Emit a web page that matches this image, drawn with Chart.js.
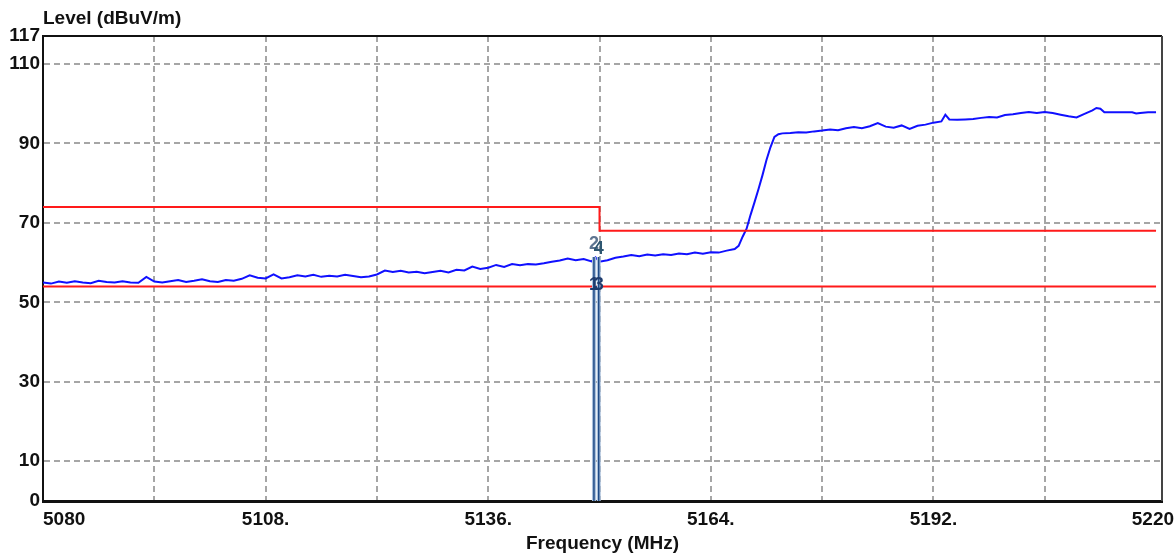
<!DOCTYPE html>
<html>
<head>
<meta charset="utf-8">
<script src="https://cdn.jsdelivr.net/npm/chart.js@4.4.1/dist/chart.umd.min.js"></script>
<style>
  html, body { margin: 0; padding: 0; background: #fff; }
  #wrap { width: 1176px; height: 553px; }
</style>
</head>
<body>
<div id="wrap"><canvas id="levelChart"></canvas></div>
<script>
const traceFreqs = [
  5080, 5081, 5082, 5083, 5084, 5085, 5086, 5087, 5088, 5089,
  5090, 5091, 5092, 5093, 5094, 5095, 5096, 5097, 5098, 5099,
  5100, 5101, 5102, 5103, 5104, 5105, 5106, 5107, 5108, 5109,
  5110, 5111, 5112, 5113, 5114, 5115, 5116, 5117, 5118, 5119,
  5120, 5121, 5122, 5123, 5124, 5125, 5126, 5127, 5128, 5129,
  5130, 5131, 5132, 5133, 5134, 5135, 5136, 5137, 5138, 5139,
  5140, 5141, 5142, 5143, 5144, 5145, 5146, 5147, 5148, 5149, 5149.5,
  5150, 5151, 5152, 5153, 5154, 5155, 5156, 5157, 5158, 5159,
  5160, 5161, 5162, 5163, 5164, 5165, 5166, 5167, 5167.5, 5168, 5168.5,
  5169, 5169.5, 5170, 5170.5, 5171, 5171.5, 5172, 5172.5, 5173, 5174,
  5175, 5176, 5177, 5178, 5179, 5180, 5181, 5182, 5183, 5184,
  5185, 5186, 5187, 5188, 5189, 5190, 5191, 5192, 5193, 5193.5, 5194,
  5195, 5196, 5197, 5198, 5199, 5200, 5201, 5202, 5203, 5204,
  5205, 5206, 5207, 5208, 5209, 5210, 5211, 5212, 5212.5, 5213, 5213.5,
  5214, 5215, 5216, 5217, 5217.5, 5218, 5219, 5220
];
const traceLevels = [
  55.0, 54.7, 55.2, 54.9, 55.3, 55.0, 54.8, 55.4, 55.1, 55.0,
  55.3, 55.0, 54.9, 56.4, 55.2, 55.0, 55.3, 55.6, 55.1, 55.4,
  55.8, 55.3, 55.1, 55.6, 55.4, 55.9, 56.8, 56.2, 56.0, 57.0,
  56.0, 56.3, 56.8, 56.5, 56.9, 56.4, 56.7, 56.5, 56.9, 56.6,
  56.3, 56.5, 57.0, 58.0, 57.6, 57.9, 57.5, 57.7, 57.3, 57.6,
  57.9, 57.5, 58.2, 58.0, 59.0, 58.4, 58.7, 59.4, 58.9, 59.6,
  59.3, 59.6, 59.5, 59.8, 60.2, 60.5, 61.0, 60.6, 60.9, 60.3, 61.3,
  60.2, 60.6, 61.2, 61.5, 61.9, 61.6, 62.0, 61.8, 62.1, 61.9,
  62.3, 62.1, 62.5, 62.2, 62.6, 62.5, 63.0, 63.4, 64.2, 66.5, 68.5,
  72.0, 75.2, 78.5, 82.0, 85.8, 89.0, 91.6, 92.3, 92.5, 92.6,
  92.8, 92.7, 93.0, 93.2, 93.5, 93.3, 93.8, 94.1, 93.8, 94.3,
  95.1, 94.2, 93.9, 94.5, 93.6, 94.4, 94.7, 95.2, 95.5, 97.2, 96.0,
  95.9, 96.0, 96.1, 96.4, 96.6, 96.5, 97.1, 97.3, 97.6, 97.9,
  97.6, 97.9, 97.6, 97.2, 96.8, 96.5, 97.4, 98.3, 98.9, 98.7, 97.8,
  97.8, 97.8, 97.8, 97.8, 97.5, 97.6, 97.8, 97.8
];

// limit lines
const upperLimitFreqs = [5080, 5150, 5150, 5220];
const upperLimitLevels = [74, 74, 68, 68];
const lowerLimitFreqs = [5080, 5220];
const lowerLimitLevels = [54, 54];

// markers
const markerNames = ["1", "2", "3", "4"];
const markerFreqs = [5149.3, 5149.3, 5149.9, 5149.9];
const markerLevels = [54.3, 64.6, 54.3, 63.3];
const markerLineTop = 61.4;

// axes
const xGridValues = [5080, 5094, 5108, 5122, 5136, 5150, 5164, 5178, 5192, 5206, 5220];
const xTickValues = [5080, 5108, 5136, 5164, 5192, 5220];
const xTickLabels = ["5080", "5108.", "5136.", "5164.", "5192.", "5220"];
const yTickValues = [0, 10, 30, 50, 70, 90, 110, 117];

const pts = (xs, ys) => xs.map((x, i) => ({ x: x, y: ys[i] }));
const labelFont = "bold 19px 'Liberation Sans', Arial, sans-serif";

const markerSets = [];
[5149.3, 5149.9].forEach(f => {
    markerSets.push({
        data: [{ x: f, y: 0 }, { x: f, y: markerLineTop }],
        borderColor: "#a9c0dc", borderWidth: 4, pointRadius: 0, order: 1
    });
    markerSets.push({
        data: [{ x: f, y: 0 }, { x: f, y: markerLineTop }],
        borderColor: "#1f4a86", borderWidth: 1.5, pointRadius: 0, order: 0
    });
});

const framePlugin = {
    id: "frameAndLabels",
    afterDraw(chart) {
        const { ctx, chartArea, scales } = chart;
        const xs = scales.x, ys = scales.y;
        ctx.save();
        ctx.lineWidth = 2;
        ctx.strokeStyle = "#111";
        ctx.beginPath();
        ctx.moveTo(chartArea.left, chartArea.top);
        ctx.lineTo(chartArea.right, chartArea.top);
        ctx.stroke();
        ctx.strokeStyle = "#444";
        ctx.beginPath();
        ctx.moveTo(chartArea.right, chartArea.top);
        ctx.lineTo(chartArea.right, chartArea.bottom);
        ctx.stroke();

        // x tick labels
        ctx.font = labelFont;
        ctx.fillStyle = "#111";
        ctx.textBaseline = "middle";
        const last = xTickValues.length - 1;
        xTickValues.forEach((v, i) => {
            let px = xs.getPixelForValue(v);
            ctx.textAlign = "center";
            if (i === 0) ctx.textAlign = "left";
            if (i === last) { ctx.textAlign = "right"; px += 18; }
            ctx.fillText(xTickLabels[i], px, chartArea.bottom + 19);
        });

        // axis titles
        ctx.textAlign = "left";
        ctx.fillText("Level (dBuV/m)", chartArea.left, 19);
        ctx.textAlign = "center";
        ctx.fillText("Frequency (MHz)", (chartArea.left + chartArea.right) / 2, chartArea.bottom + 43);

        // marker numbers
        ctx.font = "bold 18px 'Liberation Sans', Arial, sans-serif";
        const markerColors = ["#1f3c6e", "#5d7490", "#1f3c6e", "#2e5670"];
        markerNames.forEach((m, i) => {
            ctx.fillStyle = markerColors[i];
            ctx.fillText(m, xs.getPixelForValue(markerFreqs[i]), ys.getPixelForValue(markerLevels[i]));
        });
        ctx.restore();
    }
};

new Chart(document.getElementById("levelChart"), {
    type: "line",
    data: {
        datasets: [
            ...markerSets,
            {
                label: "Upper limit",
                data: pts(upperLimitFreqs, upperLimitLevels),
                borderColor: "#ff1a1a", borderWidth: 2, pointRadius: 0, order: 2
            },
            {
                label: "Lower limit",
                data: pts(lowerLimitFreqs, lowerLimitLevels),
                borderColor: "#ff1a1a", borderWidth: 2, pointRadius: 0, order: 2
            },
            {
                label: "Level",
                data: pts(traceFreqs, traceLevels),
                borderColor: "#1010ff", borderWidth: 2, pointRadius: 0, order: 3
            }
        ]
    },
    options: {
        responsive: true,
        maintainAspectRatio: false,
        animation: false,
        layout: { padding: { top: 36, right: 14, left: 0, bottom: 0 } },
        plugins: { legend: { display: false }, tooltip: { enabled: false } },
        scales: {
            x: {
                type: "linear",
                min: 5080,
                max: 5220.75,
                afterBuildTicks: s => { s.ticks = xGridValues.map(v => ({ value: v })); },
                afterFit: s => { s.height = 52; },
                ticks: { display: false },
                grid: {
                    drawTicks: false,
                    lineWidth: 2,
                    color: c => (c.tick && (c.tick.value === 5080 || c.tick.value === 5220)) ? "rgba(0,0,0,0)" : "#a6a6a6"
                },
                border: { display: true, color: "#111", width: 3, dash: [6, 4] }
            },
            y: {
                min: 0,
                max: 117,
                afterBuildTicks: s => { s.ticks = yTickValues.map(v => ({ value: v })); },
                afterFit: s => { s.width = 43; },
                ticks: {
                    padding: 3,
                    color: "#111",
                    font: { family: "'Liberation Sans', Arial, sans-serif", size: 19, weight: "bold" },
                    callback: v => String(v)
                },
                grid: {
                    drawTicks: false,
                    lineWidth: 2,
                    color: c => (c.tick && (c.tick.value === 0 || c.tick.value === 117)) ? "rgba(0,0,0,0)" : "#a6a6a6"
                },
                border: { display: true, color: "#111", width: 2, dash: [6, 4] }
            }
        }
    },
    plugins: [framePlugin]
});
</script>
</body>
</html>
